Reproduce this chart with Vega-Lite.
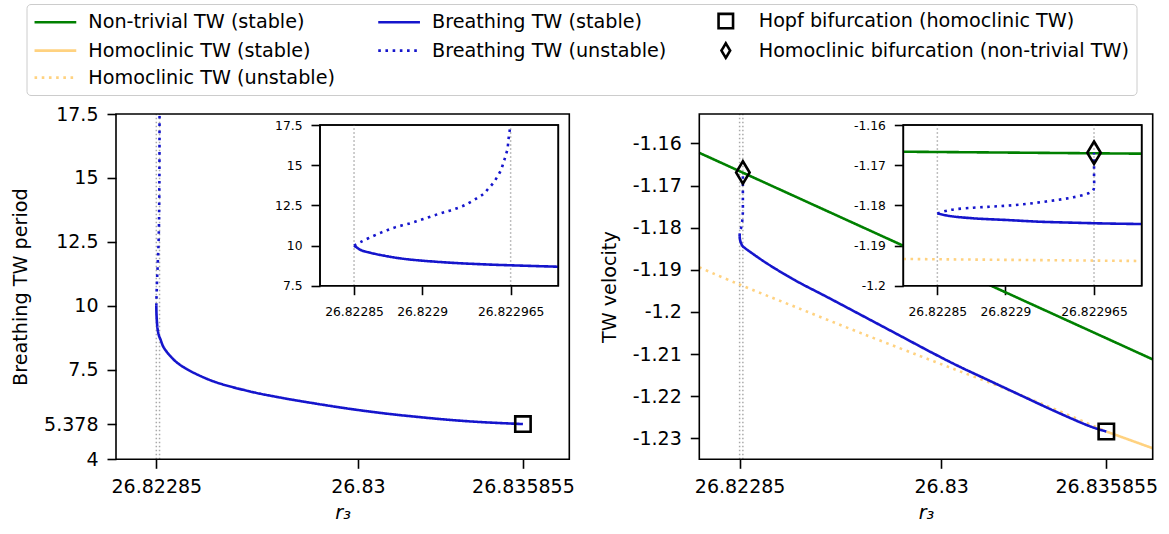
{
"$schema": "https://vega.github.io/schema/vega-lite/v6.json",
"width": 1169, "height": 534,
"autosize": {"type": "none"},
"padding": 0,
"background": "white",
"config": {
  "font": "DejaVu Sans",
  "view": {"stroke": null},
  "axis": {"grid": false, "domain": false, "tickColor": "black", "tickWidth": 1.6, "tickSize": 9, "labelColor": "black", "titleColor": "black", "titleFontWeight": "normal", "labelFont": "DejaVu Sans", "titleFont": "DejaVu Sans", "zindex": 1, "labelOverlap": false, "labelFlush": false},
  "line": {"interpolate": "catmull-rom"}
},
"datasets": {"pts": [
{"p":"Ri","s":"Non-trivial TW (stable)","x":26.822825,"y":-1.16665,"o":0},
{"p":"Ri","s":"Non-trivial TW (stable)","x":26.823,"y":-1.16714,"o":1},
{"p":"Ri","s":"Homoclinic TW (unstable)","x":26.822825,"y":-1.19335,"o":0},
{"p":"Ri","s":"Homoclinic TW (unstable)","x":26.823,"y":-1.19385,"o":1},
{"p":"L","s":"Breathing TW (stable)","x":26.82285,"y":10.0,"o":0},
{"p":"L","s":"Breathing TW (stable)","x":26.822855,"y":9.72,"o":1},
{"p":"L","s":"Breathing TW (stable)","x":26.822862,"y":9.55,"o":2},
{"p":"L","s":"Breathing TW (stable)","x":26.822872,"y":9.37,"o":3},
{"p":"L","s":"Breathing TW (stable)","x":26.822884,"y":9.2,"o":4},
{"p":"L","s":"Breathing TW (stable)","x":26.822897,"y":9.08,"o":5},
{"p":"L","s":"Breathing TW (stable)","x":26.822921,"y":8.93,"o":6},
{"p":"L","s":"Breathing TW (stable)","x":26.822945,"y":8.83,"o":7},
{"p":"L","s":"Breathing TW (stable)","x":26.822965,"y":8.77,"o":8},
{"p":"L","s":"Breathing TW (stable)","x":26.823,"y":8.68,"o":9},
{"p":"L","s":"Breathing TW (stable)","x":26.823109,"y":8.38,"o":10},
{"p":"L","s":"Breathing TW (stable)","x":26.823463,"y":7.9,"o":11},
{"p":"L","s":"Breathing TW (stable)","x":26.823817,"y":7.6,"o":12},
{"p":"L","s":"Breathing TW (stable)","x":26.824409,"y":7.26,"o":13},
{"p":"L","s":"Breathing TW (stable)","x":26.825001,"y":7.0,"o":14},
{"p":"L","s":"Breathing TW (stable)","x":26.826181,"y":6.65,"o":15},
{"p":"L","s":"Breathing TW (stable)","x":26.827361,"y":6.39,"o":16},
{"p":"L","s":"Breathing TW (stable)","x":26.828545,"y":6.17,"o":17},
{"p":"L","s":"Breathing TW (stable)","x":26.829725,"y":5.97,"o":18},
{"p":"L","s":"Breathing TW (stable)","x":26.830905,"y":5.8,"o":19},
{"p":"L","s":"Breathing TW (stable)","x":26.832088,"y":5.66,"o":20},
{"p":"L","s":"Breathing TW (stable)","x":26.833268,"y":5.54,"o":21},
{"p":"L","s":"Breathing TW (stable)","x":26.834448,"y":5.45,"o":22},
{"p":"L","s":"Breathing TW (stable)","x":26.835855,"y":5.378,"o":23},
{"p":"L","s":"Breathing TW (unstable)","x":26.82285,"y":10.0,"o":0},
{"p":"L","s":"Breathing TW (unstable)","x":26.8228544,"y":10.2,"o":1},
{"p":"L","s":"Breathing TW (unstable)","x":26.8228605,"y":10.45,"o":2},
{"p":"L","s":"Breathing TW (unstable)","x":26.8228703,"y":10.82,"o":3},
{"p":"L","s":"Breathing TW (unstable)","x":26.8228801,"y":11.13,"o":4},
{"p":"L","s":"Breathing TW (unstable)","x":26.8228911,"y":11.38,"o":5},
{"p":"L","s":"Breathing TW (unstable)","x":26.8229009,"y":11.65,"o":6},
{"p":"L","s":"Breathing TW (unstable)","x":26.8229119,"y":11.96,"o":7},
{"p":"L","s":"Breathing TW (unstable)","x":26.8229217,"y":12.21,"o":8},
{"p":"L","s":"Breathing TW (unstable)","x":26.8229315,"y":12.52,"o":9},
{"p":"L","s":"Breathing TW (unstable)","x":26.8229401,"y":12.94,"o":10},
{"p":"L","s":"Breathing TW (unstable)","x":26.8229449,"y":13.2,"o":11},
{"p":"L","s":"Breathing TW (unstable)","x":26.8229486,"y":13.54,"o":12},
{"p":"L","s":"Breathing TW (unstable)","x":26.8229523,"y":13.9,"o":13},
{"p":"L","s":"Breathing TW (unstable)","x":26.8229552,"y":14.28,"o":14},
{"p":"L","s":"Breathing TW (unstable)","x":26.8229577,"y":14.66,"o":15},
{"p":"L","s":"Breathing TW (unstable)","x":26.8229596,"y":15.12,"o":16},
{"p":"L","s":"Breathing TW (unstable)","x":26.8229611,"y":15.53,"o":17},
{"p":"L","s":"Breathing TW (unstable)","x":26.8229626,"y":15.99,"o":18},
{"p":"L","s":"Breathing TW (unstable)","x":26.8229633,"y":16.46,"o":19},
{"p":"L","s":"Breathing TW (unstable)","x":26.8229638,"y":16.88,"o":20},
{"p":"L","s":"Breathing TW (unstable)","x":26.822965,"y":17.5,"o":21},
{"p":"L","s":"Hopf bifurcation (homoclinic TW)","x":26.835855,"y":5.378,"o":0},
{"p":"R","s":"Non-trivial TW (stable)","x":26.82142,"y":-1.16222,"o":0},
{"p":"R","s":"Non-trivial TW (stable)","x":26.8375,"y":-1.21127,"o":1},
{"p":"R","s":"Homoclinic TW (unstable)","x":26.82142,"y":-1.18942,"o":0},
{"p":"R","s":"Homoclinic TW (unstable)","x":26.822744,"y":-1.19322,"o":1},
{"p":"R","s":"Homoclinic TW (unstable)","x":26.824811,"y":-1.19878,"o":2},
{"p":"R","s":"Homoclinic TW (unstable)","x":26.827176,"y":-1.20509,"o":3},
{"p":"R","s":"Homoclinic TW (unstable)","x":26.829775,"y":-1.21183,"o":4},
{"p":"R","s":"Homoclinic TW (unstable)","x":26.830602,"y":-1.21396,"o":5},
{"p":"R","s":"Homoclinic TW (unstable)","x":26.831786,"y":-1.21695,"o":6},
{"p":"R","s":"Homoclinic TW (unstable)","x":26.832967,"y":-1.22013,"o":7},
{"p":"R","s":"Homoclinic TW (unstable)","x":26.834148,"y":-1.22345,"o":8},
{"p":"R","s":"Homoclinic TW (unstable)","x":26.835855,"y":-1.2284,"o":9},
{"p":"R","s":"Homoclinic TW (stable)","x":26.835855,"y":-1.2284,"o":0},
{"p":"R","s":"Homoclinic TW (stable)","x":26.8375,"y":-1.23238,"o":1},
{"p":"R","s":"Breathing TW (stable)","x":26.82285,"y":-1.182,"o":0},
{"p":"R","s":"Breathing TW (stable)","x":26.822859,"y":-1.18265,"o":1},
{"p":"R","s":"Breathing TW (stable)","x":26.822876,"y":-1.18322,"o":2},
{"p":"R","s":"Breathing TW (stable)","x":26.822901,"y":-1.18365,"o":3},
{"p":"R","s":"Breathing TW (stable)","x":26.822925,"y":-1.18407,"o":4},
{"p":"R","s":"Breathing TW (stable)","x":26.82295,"y":-1.18432,"o":5},
{"p":"R","s":"Breathing TW (stable)","x":26.822974,"y":-1.18452,"o":6},
{"p":"R","s":"Breathing TW (stable)","x":26.823,"y":-1.18465,"o":7},
{"p":"R","s":"Breathing TW (stable)","x":26.823276,"y":-1.186,"o":8},
{"p":"R","s":"Breathing TW (stable)","x":26.823864,"y":-1.18868,"o":9},
{"p":"R","s":"Breathing TW (stable)","x":26.824811,"y":-1.19247,"o":10},
{"p":"R","s":"Breathing TW (stable)","x":26.825992,"y":-1.1966,"o":11},
{"p":"R","s":"Breathing TW (stable)","x":26.827176,"y":-1.2008,"o":12},
{"p":"R","s":"Breathing TW (stable)","x":26.828357,"y":-1.205,"o":13},
{"p":"R","s":"Breathing TW (stable)","x":26.829775,"y":-1.21004,"o":14},
{"p":"R","s":"Breathing TW (stable)","x":26.830602,"y":-1.21285,"o":15},
{"p":"R","s":"Breathing TW (stable)","x":26.831786,"y":-1.21657,"o":16},
{"p":"R","s":"Breathing TW (stable)","x":26.832967,"y":-1.22027,"o":17},
{"p":"R","s":"Breathing TW (stable)","x":26.834148,"y":-1.22393,"o":18},
{"p":"R","s":"Breathing TW (stable)","x":26.835332,"y":-1.2273,"o":19},
{"p":"R","s":"Breathing TW (stable)","x":26.835855,"y":-1.2284,"o":20},
{"p":"R","s":"Breathing TW (unstable)","x":26.82285,"y":-1.182,"o":0},
{"p":"R","s":"Breathing TW (unstable)","x":26.8228593,"y":-1.18116,"o":1},
{"p":"R","s":"Breathing TW (unstable)","x":26.8228764,"y":-1.18058,"o":2},
{"p":"R","s":"Breathing TW (unstable)","x":26.8228887,"y":-1.18034,"o":3},
{"p":"R","s":"Breathing TW (unstable)","x":26.8229009,"y":-1.18009,"o":4},
{"p":"R","s":"Breathing TW (unstable)","x":26.8229131,"y":-1.17974,"o":5},
{"p":"R","s":"Breathing TW (unstable)","x":26.8229254,"y":-1.17924,"o":6},
{"p":"R","s":"Breathing TW (unstable)","x":26.8229377,"y":-1.17867,"o":7},
{"p":"R","s":"Breathing TW (unstable)","x":26.8229498,"y":-1.178,"o":8},
{"p":"R","s":"Breathing TW (unstable)","x":26.8229609,"y":-1.177,"o":9},
{"p":"R","s":"Breathing TW (unstable)","x":26.8229645,"y":-1.17618,"o":10},
{"p":"R","s":"Breathing TW (unstable)","x":26.822965,"y":-1.17287,"o":11},
{"p":"R","s":"Breathing TW (unstable)","x":26.822965,"y":-1.16953,"o":12},
{"p":"R","s":"Breathing TW (unstable)","x":26.822965,"y":-1.1669,"o":13},
{"p":"R","s":"Hopf bifurcation (homoclinic TW)","x":26.835855,"y":-1.2284,"o":0},
{"p":"R","s":"Homoclinic bifurcation (non-trivial TW)","x":26.822965,"y":-1.1669,"o":0}
]},
"layer": [
{
 "layer": [
  {"data": {"values": [{"v": 26.82285}, {"v": 26.822965}]},
   "mark": {"type": "rule", "color": "#aaaaaa", "strokeWidth": 1.5, "strokeDash": [1.5, 2.5]},
   "encoding": {
     "x": {"field": "v", "type": "quantitative", "scale": {"domain": [26.82142, 26.8375], "range": [116, 569.3], "nice": false, "zero": false}},
     "y": {"datum": 4, "type": "quantitative", "scale": {"domain": [4, 17.5], "range": [459.3, 114], "nice": false, "zero": false}},
     "y2": {"datum": 17.5}}},
  {"data": {"name": "pts"},
   "transform": [{"filter": "datum.p === 'L' && indexof(datum.s, 'bifurcation') < 0"}],
   "mark": {"type": "line", "strokeWidth": 2.6},
   "encoding": {
     "x": {"field": "x", "type": "quantitative", "scale": {"domain": [26.82142, 26.8375], "range": [116, 569.3], "nice": false, "zero": false},
           "axis": {"orient": "bottom", "offset": -74.7, "values": [26.82285, 26.83, 26.835855], "labelExpr": "'' + datum.value", "labelFontSize": 19, "labelPadding": 9, "title": "r₃", "titleFontSize": 19.2, "titleFontStyle": "italic", "titlePadding": 7}},
     "y": {"field": "y", "type": "quantitative", "scale": {"domain": [4, 17.5], "range": [459.3, 114], "nice": false, "zero": false},
           "axis": {"orient": "left", "offset": -116, "values": [4, 5.378, 7.5, 10, 12.5, 15, 17.5], "labelExpr": "'' + datum.value", "labelFontSize": 19, "labelPadding": 9, "title": "Breathing TW period", "titleFontSize": 19.2, "titlePadding": 13}},
     "color": {"field": "s", "type": "nominal",
       "scale": {"domain": ["Non-trivial TW (stable)", "Homoclinic TW (stable)", "Homoclinic bifurcation (non-trivial TW)", "Breathing TW (stable)", "Breathing TW (unstable)", "Homoclinic TW (unstable)", "Hopf bifurcation (homoclinic TW)"], "range": ["#008000", "#ffd280", "#000000", "#1515cc", "#1515cc", "#ffd280", "#000000"]},
       "legend": {"orient": "none", "legendX": 26.5, "legendY": 4, "columns": 3, "title": null, "labelFont": "DejaVu Sans", "labelFontSize": 19.2, "labelColor": "black", "labelLimit": 800, "columnPadding": 36.7, "rowPadding": 4, "padding": 7, "strokeColor": "#cccccc", "fillColor": "white", "cornerRadius": 4, "symbolSize": 210, "symbolStrokeWidth": 2.6, "symbolOffset": 12.3, "labelOffset": 23.3, "values": ["Non-trivial TW (stable)", "Homoclinic TW (stable)", "Homoclinic bifurcation (non-trivial TW)", "Breathing TW (stable)", "Breathing TW (unstable)", "Homoclinic TW (unstable)", "Hopf bifurcation (homoclinic TW)"], "encode": {"symbols": {"update": {"size": {"value": 210}}}}}},
     "strokeDash": {"field": "s", "type": "nominal",
       "scale": {"domain": ["Non-trivial TW (stable)", "Homoclinic TW (stable)", "Homoclinic bifurcation (non-trivial TW)", "Breathing TW (stable)", "Breathing TW (unstable)", "Homoclinic TW (unstable)", "Hopf bifurcation (homoclinic TW)"], "range": [[1, 0], [1, 0], [1, 0], [1, 0], [2.6, 4.6], [2.6, 4.6], [1, 0]]},
       "legend": {"orient": "none", "legendX": 26.5, "legendY": 4, "columns": 3, "title": null, "labelFont": "DejaVu Sans", "labelFontSize": 19.2, "labelColor": "black", "labelLimit": 800, "columnPadding": 36.7, "rowPadding": 4, "padding": 7, "strokeColor": "#cccccc", "fillColor": "white", "cornerRadius": 4, "symbolSize": 210, "symbolStrokeWidth": 2.6, "symbolOffset": 12.3, "labelOffset": 23.3, "values": ["Non-trivial TW (stable)", "Homoclinic TW (stable)", "Homoclinic bifurcation (non-trivial TW)", "Breathing TW (stable)", "Breathing TW (unstable)", "Homoclinic TW (unstable)", "Hopf bifurcation (homoclinic TW)"], "encode": {"symbols": {"update": {"size": {"value": 210}}}}}},
     "order": {"field": "o", "type": "quantitative"}}},
  {"data": {"name": "pts"},
   "transform": [{"filter": "datum.p === 'L' && indexof(datum.s, 'Hopf') === 0"}],
   "mark": {"type": "point", "filled": false, "size": 237, "strokeWidth": 2.6, "opacity": 1},
   "encoding": {
     "x": {"field": "x", "type": "quantitative", "scale": {"domain": [26.82142, 26.8375], "range": [116, 569.3], "nice": false, "zero": false}},
     "y": {"field": "y", "type": "quantitative", "scale": {"domain": [4, 17.5], "range": [459.3, 114], "nice": false, "zero": false}},
     "color": {"field": "s", "type": "nominal",
       "scale": {"domain": ["Non-trivial TW (stable)", "Homoclinic TW (stable)", "Homoclinic bifurcation (non-trivial TW)", "Breathing TW (stable)", "Breathing TW (unstable)", "Homoclinic TW (unstable)", "Hopf bifurcation (homoclinic TW)"], "range": ["#008000", "#ffd280", "#000000", "#1515cc", "#1515cc", "#ffd280", "#000000"]},
       "legend": {"orient": "none", "legendX": 26.5, "legendY": 4, "columns": 3, "title": null, "labelFont": "DejaVu Sans", "labelFontSize": 19.2, "labelColor": "black", "labelLimit": 800, "columnPadding": 36.7, "rowPadding": 4, "padding": 7, "strokeColor": "#cccccc", "fillColor": "white", "cornerRadius": 4, "symbolSize": 210, "symbolStrokeWidth": 2.6, "symbolOffset": 12.3, "labelOffset": 23.3, "values": ["Non-trivial TW (stable)", "Homoclinic TW (stable)", "Homoclinic bifurcation (non-trivial TW)", "Breathing TW (stable)", "Breathing TW (unstable)", "Homoclinic TW (unstable)", "Hopf bifurcation (homoclinic TW)"], "encode": {"symbols": {"update": {"size": {"value": 210}}}}}},
     "shape": {"field": "s", "type": "nominal",
       "scale": {"domain": ["Non-trivial TW (stable)", "Homoclinic TW (stable)", "Homoclinic bifurcation (non-trivial TW)", "Breathing TW (stable)", "Breathing TW (unstable)", "Homoclinic TW (unstable)", "Hopf bifurcation (homoclinic TW)"], "range": ["M-2.88,0H2.88", "M-2.88,0H2.88", "M0,-1L0.6,0L0,1L-0.6,0Z", "M-2.88,0H2.88", "M-2.88,0H2.88", "M-2.88,0H2.88", "square"]},
       "legend": {"orient": "none", "legendX": 26.5, "legendY": 4, "columns": 3, "title": null, "labelFont": "DejaVu Sans", "labelFontSize": 19.2, "labelColor": "black", "labelLimit": 800, "columnPadding": 36.7, "rowPadding": 4, "padding": 7, "strokeColor": "#cccccc", "fillColor": "white", "cornerRadius": 4, "symbolSize": 210, "symbolStrokeWidth": 2.6, "symbolOffset": 12.3, "labelOffset": 23.3, "values": ["Non-trivial TW (stable)", "Homoclinic TW (stable)", "Homoclinic bifurcation (non-trivial TW)", "Breathing TW (stable)", "Breathing TW (unstable)", "Homoclinic TW (unstable)", "Hopf bifurcation (homoclinic TW)"], "encode": {"symbols": {"update": {"size": {"value": 210}}}}}}}},
  {"data": {"values": [{}]},
   "mark": {"type": "rect", "fill": "transparent", "stroke": "black", "strokeWidth": 1.6},
   "encoding": {
     "x": {"datum": 26.82142, "type": "quantitative", "scale": {"domain": [26.82142, 26.8375], "range": [116, 569.3], "nice": false, "zero": false}},
     "x2": {"datum": 26.8375},
     "y": {"datum": 4, "type": "quantitative", "scale": {"domain": [4, 17.5], "range": [459.3, 114], "nice": false, "zero": false}},
     "y2": {"datum": 17.5}}}
 ]
},
{
 "layer": [
  {"data": {"values": [{"v": 26.82285}, {"v": 26.822965}]},
   "mark": {"type": "rule", "color": "#aaaaaa", "strokeWidth": 1.5, "strokeDash": [1.5, 2.5]},
   "encoding": {
     "x": {"field": "v", "type": "quantitative", "scale": {"domain": [26.82142, 26.8375], "range": [699.3, 1152.7], "nice": false, "zero": false}},
     "y": {"datum": -1.235, "type": "quantitative", "scale": {"domain": [-1.235, -1.153], "range": [459.3, 114], "nice": false, "zero": false}},
     "y2": {"datum": -1.153}}},
  {"data": {"name": "pts"},
   "transform": [{"filter": "datum.p === 'R' && indexof(datum.s, 'bifurcation') < 0"}],
   "mark": {"type": "line", "strokeWidth": 2.6},
   "encoding": {
     "x": {"field": "x", "type": "quantitative", "scale": {"domain": [26.82142, 26.8375], "range": [699.3, 1152.7], "nice": false, "zero": false},
           "axis": {"orient": "bottom", "offset": -74.7, "values": [26.82285, 26.83, 26.835855], "labelExpr": "'' + datum.value", "labelFontSize": 19, "labelPadding": 9, "title": "r₃", "titleFontSize": 19.2, "titleFontStyle": "italic", "titlePadding": 7}},
     "y": {"field": "y", "type": "quantitative", "scale": {"domain": [-1.235, -1.153], "range": [459.3, 114], "nice": false, "zero": false},
           "axis": {"orient": "left", "offset": -699.3, "values": [-1.23, -1.22, -1.21, -1.2, -1.19, -1.18, -1.17, -1.16], "labelExpr": "'' + datum.value", "labelFontSize": 19, "labelPadding": 9, "title": "TW velocity", "titleFontSize": 19.2, "titlePadding": 13}},
     "color": {"field": "s", "type": "nominal",
       "scale": {"domain": ["Non-trivial TW (stable)", "Homoclinic TW (stable)", "Homoclinic bifurcation (non-trivial TW)", "Breathing TW (stable)", "Breathing TW (unstable)", "Homoclinic TW (unstable)", "Hopf bifurcation (homoclinic TW)"], "range": ["#008000", "#ffd280", "#000000", "#1515cc", "#1515cc", "#ffd280", "#000000"]},
       "legend": null},
     "strokeDash": {"field": "s", "type": "nominal",
       "scale": {"domain": ["Non-trivial TW (stable)", "Homoclinic TW (stable)", "Homoclinic bifurcation (non-trivial TW)", "Breathing TW (stable)", "Breathing TW (unstable)", "Homoclinic TW (unstable)", "Hopf bifurcation (homoclinic TW)"], "range": [[1, 0], [1, 0], [1, 0], [1, 0], [2.6, 4.6], [2.6, 4.6], [1, 0]]},
       "legend": null},
     "order": {"field": "o", "type": "quantitative"}}},
  {"data": {"name": "pts"},
   "transform": [{"filter": "datum.p === 'R' && indexof(datum.s, 'Hopf') === 0"}],
   "mark": {"type": "point", "filled": false, "size": 237, "strokeWidth": 2.6, "opacity": 1},
   "encoding": {
     "x": {"field": "x", "type": "quantitative", "scale": {"domain": [26.82142, 26.8375], "range": [699.3, 1152.7], "nice": false, "zero": false}},
     "y": {"field": "y", "type": "quantitative", "scale": {"domain": [-1.235, -1.153], "range": [459.3, 114], "nice": false, "zero": false}},
     "color": {"field": "s", "type": "nominal",
       "scale": {"domain": ["Non-trivial TW (stable)", "Homoclinic TW (stable)", "Homoclinic bifurcation (non-trivial TW)", "Breathing TW (stable)", "Breathing TW (unstable)", "Homoclinic TW (unstable)", "Hopf bifurcation (homoclinic TW)"], "range": ["#008000", "#ffd280", "#000000", "#1515cc", "#1515cc", "#ffd280", "#000000"]},
       "legend": null},
     "shape": {"field": "s", "type": "nominal",
       "scale": {"domain": ["Non-trivial TW (stable)", "Homoclinic TW (stable)", "Homoclinic bifurcation (non-trivial TW)", "Breathing TW (stable)", "Breathing TW (unstable)", "Homoclinic TW (unstable)", "Hopf bifurcation (homoclinic TW)"], "range": ["M-2.88,0H2.88", "M-2.88,0H2.88", "M0,-1L0.6,0L0,1L-0.6,0Z", "M-2.88,0H2.88", "M-2.88,0H2.88", "M-2.88,0H2.88", "square"]},
       "legend": null}}},
  {"data": {"name": "pts"},
   "transform": [{"filter": "datum.p === 'R' && indexof(datum.s, 'Homoclinic bifurcation') === 0"}],
   "mark": {"type": "point", "filled": false, "size": 506, "strokeWidth": 2.6, "opacity": 1},
   "encoding": {
     "x": {"field": "x", "type": "quantitative", "scale": {"domain": [26.82142, 26.8375], "range": [699.3, 1152.7], "nice": false, "zero": false}},
     "y": {"field": "y", "type": "quantitative", "scale": {"domain": [-1.235, -1.153], "range": [459.3, 114], "nice": false, "zero": false}},
     "color": {"field": "s", "type": "nominal",
       "scale": {"domain": ["Non-trivial TW (stable)", "Homoclinic TW (stable)", "Homoclinic bifurcation (non-trivial TW)", "Breathing TW (stable)", "Breathing TW (unstable)", "Homoclinic TW (unstable)", "Hopf bifurcation (homoclinic TW)"], "range": ["#008000", "#ffd280", "#000000", "#1515cc", "#1515cc", "#ffd280", "#000000"]},
       "legend": null},
     "shape": {"field": "s", "type": "nominal",
       "scale": {"domain": ["Non-trivial TW (stable)", "Homoclinic TW (stable)", "Homoclinic bifurcation (non-trivial TW)", "Breathing TW (stable)", "Breathing TW (unstable)", "Homoclinic TW (unstable)", "Hopf bifurcation (homoclinic TW)"], "range": ["M-2.88,0H2.88", "M-2.88,0H2.88", "M0,-1L0.6,0L0,1L-0.6,0Z", "M-2.88,0H2.88", "M-2.88,0H2.88", "M-2.88,0H2.88", "square"]},
       "legend": null}}},
  {"data": {"values": [{}]},
   "mark": {"type": "rect", "fill": "transparent", "stroke": "black", "strokeWidth": 1.6},
   "encoding": {
     "x": {"datum": 26.82142, "type": "quantitative", "scale": {"domain": [26.82142, 26.8375], "range": [699.3, 1152.7], "nice": false, "zero": false}},
     "x2": {"datum": 26.8375},
     "y": {"datum": -1.235, "type": "quantitative", "scale": {"domain": [-1.235, -1.153], "range": [459.3, 114], "nice": false, "zero": false}},
     "y2": {"datum": -1.153}}}
 ]
},
{
 "layer": [
  {"data": {"values": [{}]},
   "mark": {"type": "rect", "fill": "white", "stroke": "black", "strokeWidth": 1.6},
   "encoding": {
     "x": {"datum": 26.822825, "type": "quantitative", "scale": {"domain": [26.822825, 26.823], "range": [320, 558.3], "nice": false, "zero": false}},
     "x2": {"datum": 26.823},
     "y": {"datum": 7.5, "type": "quantitative", "scale": {"domain": [7.5, 17.5], "range": [285.7, 125], "nice": false, "zero": false}},
     "y2": {"datum": 17.5}}},
  {"data": {"values": [{"v": 26.82285}, {"v": 26.822965}]},
   "mark": {"type": "rule", "color": "#aaaaaa", "strokeWidth": 1.5, "strokeDash": [1.5, 2.5]},
   "encoding": {
     "x": {"field": "v", "type": "quantitative", "scale": {"domain": [26.822825, 26.823], "range": [320, 558.3], "nice": false, "zero": false}},
     "y": {"datum": 7.5, "type": "quantitative", "scale": {"domain": [7.5, 17.5], "range": [285.7, 125], "nice": false, "zero": false}},
     "y2": {"datum": 17.5}}},
  {"data": {"name": "pts"},
   "transform": [{"filter": "datum.p === 'L' && datum.x <= 26.823 && indexof(datum.s, 'bifurcation') < 0"}],
   "mark": {"type": "line", "strokeWidth": 2.6},
   "encoding": {
     "x": {"field": "x", "type": "quantitative", "scale": {"domain": [26.822825, 26.823], "range": [320, 558.3], "nice": false, "zero": false},
           "axis": {"orient": "bottom", "offset": -248.3, "values": [26.82285, 26.8229, 26.822965], "labelExpr": "'' + datum.value", "labelFontSize": 12.3, "labelPadding": 11, "title": null}},
     "y": {"field": "y", "type": "quantitative", "scale": {"domain": [7.5, 17.5], "range": [285.7, 125], "nice": false, "zero": false},
           "axis": {"orient": "left", "offset": -320, "values": [7.5, 10, 12.5, 15, 17.5], "labelExpr": "'' + datum.value", "labelFontSize": 12.3, "labelPadding": 9, "title": null}},
     "color": {"field": "s", "type": "nominal",
       "scale": {"domain": ["Non-trivial TW (stable)", "Homoclinic TW (stable)", "Homoclinic bifurcation (non-trivial TW)", "Breathing TW (stable)", "Breathing TW (unstable)", "Homoclinic TW (unstable)", "Hopf bifurcation (homoclinic TW)"], "range": ["#008000", "#ffd280", "#000000", "#1515cc", "#1515cc", "#ffd280", "#000000"]},
       "legend": null},
     "strokeDash": {"field": "s", "type": "nominal",
       "scale": {"domain": ["Non-trivial TW (stable)", "Homoclinic TW (stable)", "Homoclinic bifurcation (non-trivial TW)", "Breathing TW (stable)", "Breathing TW (unstable)", "Homoclinic TW (unstable)", "Hopf bifurcation (homoclinic TW)"], "range": [[1, 0], [1, 0], [1, 0], [1, 0], [2.6, 4.6], [2.6, 4.6], [1, 0]]},
       "legend": null},
     "order": {"field": "o", "type": "quantitative"}}},
  {"data": {"values": [{}]},
   "mark": {"type": "rect", "fill": "transparent", "stroke": "black", "strokeWidth": 1.6},
   "encoding": {
     "x": {"datum": 26.822825, "type": "quantitative", "scale": {"domain": [26.822825, 26.823], "range": [320, 558.3], "nice": false, "zero": false}},
     "x2": {"datum": 26.823},
     "y": {"datum": 7.5, "type": "quantitative", "scale": {"domain": [7.5, 17.5], "range": [285.7, 125], "nice": false, "zero": false}},
     "y2": {"datum": 17.5}}}
 ]
},
{
 "layer": [
  {"data": {"values": [{}]},
   "mark": {"type": "rect", "fill": "white", "stroke": "black", "strokeWidth": 1.6},
   "encoding": {
     "x": {"datum": 26.822825, "type": "quantitative", "scale": {"domain": [26.822825, 26.823], "range": [903.3, 1141.7], "nice": false, "zero": false}},
     "x2": {"datum": 26.823},
     "y": {"datum": -1.2, "type": "quantitative", "scale": {"domain": [-1.2, -1.16], "range": [285.7, 125], "nice": false, "zero": false}},
     "y2": {"datum": -1.16}}},
  {"data": {"values": [{"v": 26.82285}, {"v": 26.822965}]},
   "mark": {"type": "rule", "color": "#aaaaaa", "strokeWidth": 1.5, "strokeDash": [1.5, 2.5]},
   "encoding": {
     "x": {"field": "v", "type": "quantitative", "scale": {"domain": [26.822825, 26.823], "range": [903.3, 1141.7], "nice": false, "zero": false}},
     "y": {"datum": -1.2, "type": "quantitative", "scale": {"domain": [-1.2, -1.16], "range": [285.7, 125], "nice": false, "zero": false}},
     "y2": {"datum": -1.16}}},
  {"data": {"name": "pts"},
   "transform": [{"filter": "(datum.p === 'Ri' || (datum.p === 'R' && datum.x >= 26.822825 && datum.x <= 26.823)) && indexof(datum.s, 'bifurcation') < 0"}],
   "mark": {"type": "line", "strokeWidth": 2.6},
   "encoding": {
     "x": {"field": "x", "type": "quantitative", "scale": {"domain": [26.822825, 26.823], "range": [903.3, 1141.7], "nice": false, "zero": false},
           "axis": {"orient": "bottom", "offset": -248.3, "values": [26.82285, 26.8229, 26.822965], "labelExpr": "'' + datum.value", "labelFontSize": 12.3, "labelPadding": 11, "title": null}},
     "y": {"field": "y", "type": "quantitative", "scale": {"domain": [-1.2, -1.16], "range": [285.7, 125], "nice": false, "zero": false},
           "axis": {"orient": "left", "offset": -903.3, "values": [-1.2, -1.19, -1.18, -1.17, -1.16], "labelExpr": "'' + datum.value", "labelFontSize": 12.3, "labelPadding": 9, "title": null}},
     "color": {"field": "s", "type": "nominal",
       "scale": {"domain": ["Non-trivial TW (stable)", "Homoclinic TW (stable)", "Homoclinic bifurcation (non-trivial TW)", "Breathing TW (stable)", "Breathing TW (unstable)", "Homoclinic TW (unstable)", "Hopf bifurcation (homoclinic TW)"], "range": ["#008000", "#ffd280", "#000000", "#1515cc", "#1515cc", "#ffd280", "#000000"]},
       "legend": null},
     "strokeDash": {"field": "s", "type": "nominal",
       "scale": {"domain": ["Non-trivial TW (stable)", "Homoclinic TW (stable)", "Homoclinic bifurcation (non-trivial TW)", "Breathing TW (stable)", "Breathing TW (unstable)", "Homoclinic TW (unstable)", "Hopf bifurcation (homoclinic TW)"], "range": [[1, 0], [1, 0], [1, 0], [1, 0], [2.6, 4.6], [2.6, 4.6], [1, 0]]},
       "legend": null},
     "order": {"field": "o", "type": "quantitative"}}},
  {"data": {"name": "pts"},
   "transform": [{"filter": "datum.p === 'R' && indexof(datum.s, 'Homoclinic bifurcation') === 0"}],
   "mark": {"type": "point", "filled": false, "size": 506, "strokeWidth": 2.6, "opacity": 1},
   "encoding": {
     "x": {"field": "x", "type": "quantitative", "scale": {"domain": [26.822825, 26.823], "range": [903.3, 1141.7], "nice": false, "zero": false}},
     "y": {"field": "y", "type": "quantitative", "scale": {"domain": [-1.2, -1.16], "range": [285.7, 125], "nice": false, "zero": false}},
     "color": {"field": "s", "type": "nominal",
       "scale": {"domain": ["Non-trivial TW (stable)", "Homoclinic TW (stable)", "Homoclinic bifurcation (non-trivial TW)", "Breathing TW (stable)", "Breathing TW (unstable)", "Homoclinic TW (unstable)", "Hopf bifurcation (homoclinic TW)"], "range": ["#008000", "#ffd280", "#000000", "#1515cc", "#1515cc", "#ffd280", "#000000"]},
       "legend": null},
     "shape": {"field": "s", "type": "nominal",
       "scale": {"domain": ["Non-trivial TW (stable)", "Homoclinic TW (stable)", "Homoclinic bifurcation (non-trivial TW)", "Breathing TW (stable)", "Breathing TW (unstable)", "Homoclinic TW (unstable)", "Hopf bifurcation (homoclinic TW)"], "range": ["M-2.88,0H2.88", "M-2.88,0H2.88", "M0,-1L0.6,0L0,1L-0.6,0Z", "M-2.88,0H2.88", "M-2.88,0H2.88", "M-2.88,0H2.88", "square"]},
       "legend": null}}},
  {"data": {"values": [{}]},
   "mark": {"type": "rect", "fill": "transparent", "stroke": "black", "strokeWidth": 1.6},
   "encoding": {
     "x": {"datum": 26.822825, "type": "quantitative", "scale": {"domain": [26.822825, 26.823], "range": [903.3, 1141.7], "nice": false, "zero": false}},
     "x2": {"datum": 26.823},
     "y": {"datum": -1.2, "type": "quantitative", "scale": {"domain": [-1.2, -1.16], "range": [285.7, 125], "nice": false, "zero": false}},
     "y2": {"datum": -1.16}}}
 ]
}
],
"resolve": {"scale": {"x": "independent", "y": "independent"}, "axis": {"x": "independent", "y": "independent"}}
}
